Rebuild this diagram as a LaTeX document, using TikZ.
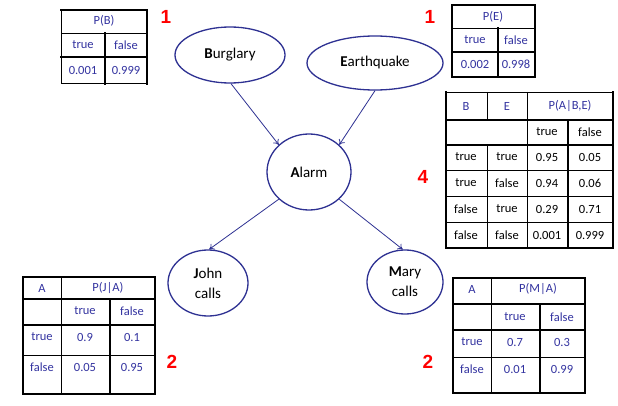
\documentclass[tikz,border=0pt]{standalone}
\usepackage{fontspec}
\setmainfont{Carlito}
\newfontfamily\numfont{Liberation Sans}
\usetikzlibrary{shapes.geometric,arrows.meta}
\definecolor{navy}{RGB}{46,49,146}
\definecolor{tblue}{RGB}{51,51,160}
\definecolor{rnumc}{RGB}{255,0,0}
\begin{document}
\begin{tikzpicture}[x=1pt,y=-1pt,
  var/.style={ellipse,draw=navy,line width=1.3pt,inner sep=0pt,font=\fontsize{15}{20}\selectfont,align=center},
  edge/.style={navy,line width=0.8pt,-{To[length=5pt,width=7pt]}},
  thk/.style={line width=2.6pt,line cap=rect},
  thn/.style={line width=0.8pt},
  cell/.style={font=\fontsize{12.5}{14}\selectfont,inner sep=0pt,anchor=center},
  bcell/.style={cell,text=tblue},
  rnum/.style={font=\numfont\bfseries\fontsize{19}{20}\selectfont,text=rnumc,inner sep=0pt}]
\useasboundingbox[fill=white] (0,0) rectangle (618,406);

% ---------- network ----------
\node[var,minimum width=110pt,minimum height=56pt] (burg) at (230,55) {\textbf{B}urglary};
\node[var,minimum width=136pt,minimum height=54pt] (earth) at (375,63) {\textbf{E}arthquake};
\node[var,minimum width=84pt,minimum height=76pt] (alarm) at (309,172) {\textbf{A}larm};
\node[var,minimum width=80pt,minimum height=66pt] (john) at (208,283) {\textbf{J}ohn\\calls};
\node[var,minimum width=76pt,minimum height=64pt] (mary) at (405,282) {\textbf{M}ary\\calls};

\draw[edge] (burg.-88) -- (alarm.138);
\draw[edge] (earth.-90) -- (alarm.42);
\draw[edge] (alarm.-138) -- (john.88);
\draw[edge] (alarm.-42) -- (mary.94);

% ---------- P(B) ----------
\draw[thn] (61,10) -- (61,83);
\draw[thn] (61,33) -- (147,33);
\draw[thn] (61,83) -- (147,83);
\draw[thk] (61,10) -- (147,10);
\draw[thk] (147,10) -- (147,84);
\draw[thk] (61,57) -- (147,57);
\draw[thk] (105,33) -- (105,84);
\node[bcell] (pb) at (104,21) {P(B)};
\node[bcell] (pbt) at (83,45) {true};
\node[bcell] (pbf) at (126,45) {false};
\node[bcell] (pbv1) at (83,70) {0.001};
\node[bcell] (pbv2) at (126,70) {0.999};
\node[rnum] (n1a) at (166,17) {1};

% ---------- P(E) ----------
\draw[thn] (452,28) -- (535,28);
\draw[thk] (452,5) rectangle (535,77);
\draw[thk] (452,52) -- (535,52);
\draw[thk] (498,28) -- (498,77);
\node[bcell] (pe) at (493,17) {P(E)};
\node[bcell] (pet) at (475,40) {true};
\node[bcell] (pef) at (516,40) {false};
\node[bcell] (pev1) at (475,64) {0.002};
\node[bcell] (pev2) at (516,64) {0.998};
\node[rnum] (n1b) at (430,17) {1};

% ---------- P(A|B,E) ----------
\draw[thn] (446,92) -- (613,92);
\draw[thn] (446,170) -- (613,170);
\draw[thn] (446,196) -- (613,196);
\draw[thn] (446,222) -- (613,222);
\draw[thn] (487,92) -- (487,120);
\draw[thn] (487,145) -- (487,248);
\draw[thn] (527,92) -- (527,248);
\draw[thk] (446,92) -- (446,248);
\draw[thk] (613,92) -- (613,248);
\draw[thk] (446,120) -- (613,120);
\draw[thk] (446,145) -- (613,145);
\draw[thk] (446,248) -- (613,248);
\draw[thk] (568,120) -- (568,248);
\node[bcell] (ab) at (466,106) {B};
\node[bcell] (ae) at (507,106) {E};
\node[bcell] (apa) at (570,106) {P(A|B,E)};
\node[cell] (aht) at (547,132) {true};
\node[cell] (ahf) at (590,132) {false};
\node[cell] (a11) at (466,157) {true};
\node[cell] (a12) at (507,157) {true};
\node[cell] (a13) at (547,157) {0.95};
\node[cell] (a14) at (590,157) {0.05};
\node[cell] (a21) at (466,183) {true};
\node[cell] (a22) at (507,183) {false};
\node[cell] (a23) at (547,183) {0.94};
\node[cell] (a24) at (590,183) {0.06};
\node[cell] (a31) at (466,209) {false};
\node[cell] (a32) at (507,209) {true};
\node[cell] (a33) at (547,209) {0.29};
\node[cell] (a34) at (590,209) {0.71};
\node[cell] (a41) at (466,235) {false};
\node[cell] (a42) at (507,235) {false};
\node[cell] (a43) at (547,235) {0.001};
\node[cell] (a44) at (590,235) {0.999};
\node[rnum] (n4) at (423,177) {4};

% ---------- P(J|A) ----------
\draw[thn] (23,355) -- (155,355);
\draw[thn] (61,277) -- (61,394);
\draw[thk] (23,277) rectangle (155,394);
\draw[thk] (23,299) -- (155,299);
\draw[thk] (23,325) -- (155,325);
\draw[thk] (110,299) -- (110,394);
\node[bcell] (ja) at (42,288) {A};
\node[bcell] (jp) at (108,288) {P(J|A)};
\node[bcell] (jht) at (85,311) {true};
\node[bcell] (jhf) at (132,311) {false};
\node[bcell] (j11) at (42,337) {true};
\node[bcell] (j12) at (85,337) {0.9};
\node[bcell] (j13) at (132,337) {0.1};
\node[bcell] (j21) at (42,367) {false};
\node[bcell] (j22) at (85,367) {0.05};
\node[bcell] (j23) at (132,367) {0.95};
\node[rnum] (n2a) at (172,362) {2};

% ---------- P(M|A) ----------
\draw[thn] (453,357) -- (585,357);
\draw[thn] (491,278) -- (491,393);
\draw[thk] (453,278) rectangle (585,393);
\draw[thk] (453,304) -- (585,304);
\draw[thk] (453,330) -- (585,330);
\draw[thk] (540,304) -- (540,393);
\node[bcell] (ma) at (472,289) {A};
\node[bcell] (mp) at (538,289) {P(M|A)};
\node[bcell] (mht) at (515,317) {true};
\node[bcell] (mhf) at (562,317) {false};
\node[bcell] (m11) at (472,342) {true};
\node[bcell] (m12) at (515,342) {0.7};
\node[bcell] (m13) at (562,342) {0.3};
\node[bcell] (m21) at (472,369) {false};
\node[bcell] (m22) at (515,369) {0.01};
\node[bcell] (m23) at (562,369) {0.99};
\node[rnum] (n2b) at (428,362) {2};
\end{tikzpicture}
\end{document}
